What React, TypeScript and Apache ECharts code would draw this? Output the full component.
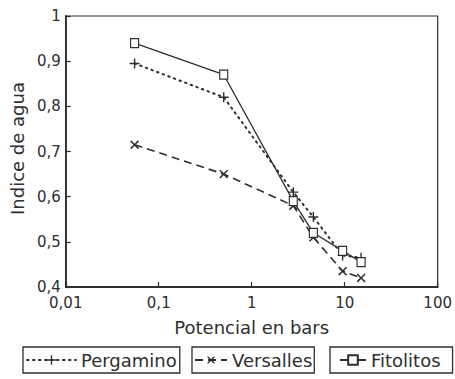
import React, { useEffect, useRef } from "react";
import * as echarts from "echarts";

const potencial = [0.055, 0.5, 2.8, 4.6, 9.5, 15];
const pergamino = [0.895, 0.82, 0.61, 0.555, 0.47, 0.465];
const versalles = [0.715, 0.65, 0.58, 0.51, 0.435, 0.42];
const fitolitos = [0.94, 0.87, 0.59, 0.52, 0.48, 0.455];
const seriesNames = ["Pergamino", "Versalles", "Fitolitos"];
const yName = "Indice de agua";
const xName = "Potencial en bars";

const INK = "#2e2e2e";
const FONT = "DejaVu Sans";
const PLUS = "path://M4.3,0H5.7V4.3H10V5.7H5.7V10H4.3V5.7H0V4.3H4.3Z";

export default function App() {
  const ref = useRef<HTMLDivElement>(null);
  useEffect(() => {
    if (!ref.current) return;
    const chart = echarts.init(ref.current, undefined, { renderer: "svg" });
    const pair = (ys: number[]) => potencial.map((x, i) => [x, ys[i]]);
    const fmtX = (v: number) => String(Number(v.toPrecision(6))).replace(".", ",");
    const fmtY = (v: number) => (Math.abs(v - 1) < 1e-9 ? "1" : v.toFixed(1).replace(".", ","));
    const legendBase = {
      top: 347,
      orient: "horizontal",
      itemHeight: 12,
      itemGap: 0,
      borderColor: INK,
      borderWidth: 1.3,
      borderRadius: 0,
      selectedMode: false,
      textStyle: { fontSize: 18, color: INK, fontFamily: FONT },
    };
    chart.setOption({
      animation: false,
      backgroundColor: "#ffffff",
      grid: {
        left: 64,
        right: 15,
        top: 16,
        bottom: 92,
        show: true,
        borderColor: INK,
        borderWidth: 1.2,
        backgroundColor: "transparent",
      },
      xAxis: {
        type: "log",
        logBase: 10,
        min: 0.01,
        max: 100,
        axisLine: { show: true, lineStyle: { color: INK, width: 1.8 } },
        axisTick: { show: true, inside: true, length: 5, lineStyle: { color: INK, width: 1.2 } },
        axisLabel: { color: INK, fontSize: 15, fontFamily: FONT, margin: 8, formatter: fmtX },
        splitLine: { show: false },
        minorTick: { show: false },
        name: xName,
        nameLocation: "middle",
        nameGap: 31,
        nameTextStyle: { fontSize: 18, color: INK, fontFamily: FONT },
      },
      yAxis: {
        type: "value",
        min: 0.4,
        max: 1,
        interval: 0.1,
        axisLine: { show: true, lineStyle: { color: INK, width: 1.8 } },
        axisTick: { show: true, inside: true, length: 5, lineStyle: { color: INK, width: 1.2 } },
        axisLabel: { color: INK, fontSize: 15, fontFamily: FONT, margin: 5, formatter: fmtY },
        splitLine: { show: false },
        name: yName,
        nameLocation: "middle",
        nameGap: 39,
        nameTextStyle: { fontSize: 18, color: INK, fontFamily: FONT, padding: [0, 0, 0, 6] },
      },
      legend: [
        { ...legendBase, data: [seriesNames[0]], left: 23, itemWidth: 49, padding: [4, 3, 4, 3] },
        { ...legendBase, data: [seriesNames[1]], left: 192, itemWidth: 32, padding: [4, 2, 4, 2] },
        { ...legendBase, data: [seriesNames[2]], left: 330, itemWidth: 26, padding: [4, 12, 4, 9] },
      ],
      series: [
        {
          name: seriesNames[1],
          type: "line",
          data: pair(versalles),
          symbol: PLUS,
          symbolRotate: 45,
          symbolSize: 11,
          symbolKeepAspect: true,
          itemStyle: { color: INK },
          lineStyle: { color: INK, width: 1.6, type: [8, 5] },
          z: 2,
        },
        {
          name: seriesNames[0],
          type: "line",
          data: pair(pergamino),
          symbol: PLUS,
          symbolSize: 10,
          symbolKeepAspect: true,
          itemStyle: { color: INK },
          lineStyle: { color: INK, width: 2, type: [1.5, 4.5], cap: "round" },
          z: 3,
        },
        {
          name: seriesNames[2],
          type: "line",
          data: pair(fitolitos),
          symbol: "rect",
          symbolSize: [8, 9],
          itemStyle: { color: "#ffffff", borderColor: INK, borderWidth: 1.2 },
          lineStyle: { color: INK, width: 1.3 },
          z: 4,
        },
      ],
    });
    return () => chart.dispose();
  }, []);
  return (
    <div
      ref={ref}
      style={{ position: "absolute", left: 0, top: 0, width: 455, height: 379 }}
    />
  );
}
